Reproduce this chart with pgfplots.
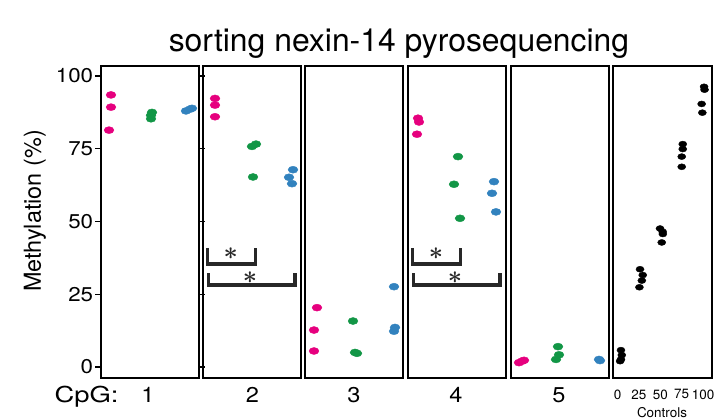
\documentclass[border=0pt]{standalone}
\usepackage{fontspec}
\setmainfont{TeX Gyre Heros}
\usepackage{pgfplots}
\pgfplotsset{compat=1.18}

\definecolor{cpink}{RGB}{230,0,126}
\definecolor{cgreen}{RGB}{18,150,70}
\definecolor{cblue}{RGB}{50,130,190}
\definecolor{brk}{RGB}{40,40,40}

\pgfplotsset{
  panel/.style={
    scale only axis, width=98bp, height=312bp,
    ymin=-3.78, ymax=103.44,
    xmin=0, xmax=98,
    axis line style={black, line width=2bp},
    xtick=\empty, ytick=\empty,
    clip=false,
    anchor=north west,
  },
  dots/.style={only marks, mark=*, mark size=3.5bp,
    mark options={xscale=1.4, draw=#1, fill=#1}},
}

% significance bracket: left x, right x, top y, bottom y
\newcommand{\bracket}[4]{%
  \draw[brk, line width=3.6bp, line cap=butt, line join=miter]
    (axis cs:#1,#3) -- (axis cs:#1,#4) -- (axis cs:#2,#4) -- (axis cs:#2,#3);}
\newcommand{\signif}[2]{%
  \node[text=brk, inner sep=0pt, font=\fontsize{28}{28}\selectfont\boldmath] at (axis cs:#1,#2) {$\ast$};}

\begin{document}
\begin{tikzpicture}
\useasboundingbox (0,0) rectangle (724bp,-420bp);

\node[anchor=base, font=\fontsize{32}{36}\selectfont] at (399bp,-51bp)
  {sorting nexin-14 pyrosequencing};
\node[rotate=90, font=\fontsize{23.5}{25}\selectfont] at (35bp,-211bp) {Methylation (\%)};
\node[anchor=base east, xscale=1.25, font=\fontsize{22}{22}\selectfont] at (123bp,-402bp) {CpG:};
\foreach \c/\t in {148/1, 252.5/2, 354/3, 456/4, 559/5}
  \node[anchor=base, xscale=1.1, font=\fontsize{21.5}{22}\selectfont] at (\c bp,-402bp) {\t};
\node[anchor=base, font=\fontsize{13.5}{14}\selectfont] at (662bp,-417bp) {Controls};

% CpG 1
\begin{axis}[panel, at={(101bp,-66bp)},
  ytick={0,25,50,75,100}, tick align=outside, major tick length=6bp,
  ytick style={black, line width=1.4bp},
  yticklabel style={font=\fontsize{20}{20}\selectfont, inner sep=1.5bp, xscale=1.12},
  /pgf/number format/assume math mode=true]
\addplot[dots=cpink] coordinates {(10,93.5) (10,89.3) (8,81.4)};
\addplot[dots=cgreen] coordinates {(51,87.5) (50,86.5) (50,85.3)};
\addplot[dots=cblue] coordinates {(85,88.0) (89,88.6) (91,88.9)};
\end{axis}

% CpG 2
\begin{axis}[panel, at={(203bp,-66bp)}]
\addplot[dots=cpink] coordinates {(12,92.3) (12,90.0) (12,86.0)};
\addplot[dots=cgreen] coordinates {(49,75.8) (53,76.6) (50,65.3)};
\addplot[dots=cblue] coordinates {(90,67.8) (86,65.2) (89,63.0)};
\bracket{4.5}{52.5}{40.9}{35.4}
\bracket{5.5}{92}{32.3}{28.2}
\signif{27.7}{38.9}
\signif{47}{30.7}
\end{axis}

% CpG 3
\begin{axis}[panel, at={(305bp,-66bp)}]
\addplot[dots=cpink] coordinates {(12,20.4) (9,12.7) (9,5.5)};
\addplot[dots=cgreen] coordinates {(48,15.8) (50,5.0) (52,4.7)};
\addplot[dots=cblue] coordinates {(89,27.6) (90,13.6) (89,12.3)};
\end{axis}

% CpG 4
\begin{axis}[panel, at={(408bp,-66bp)}]
\addplot[dots=cpink] coordinates {(10,85.5) (11,84.2) (9,80.0)};
\addplot[dots=cgreen] coordinates {(50,72.3) (46,62.8) (52,51.1)};
\addplot[dots=cblue] coordinates {(86,63.7) (84,59.7) (88,53.3)};
\bracket{4.5}{52.5}{40.9}{35.4}
\bracket{5.5}{92}{32.3}{28.2}
\signif{28}{38.9}
\signif{47}{30.7}
\end{axis}

% CpG 5
\begin{axis}[panel, at={(511bp,-66bp)}]
\addplot[dots=cpink] coordinates {(8,1.5) (11,2.0) (13,2.3)};
\addplot[dots=cgreen] coordinates {(47,7.0) (48,4.2) (45,2.6)};
\addplot[dots=cblue] coordinates {(88,2.6) (89,2.2)};
\end{axis}

% Controls
\begin{axis}[panel, at={(613bp,-66bp)}, width=99bp,
  xmin=-5.3, xmax=110.5,
  xtick={0,25,50,75,100}, major tick length=0pt,
  xticklabel style={font=\fontsize{13.5}{14}\selectfont, yshift=-8bp},
  /pgf/number format/assume math mode=true]
\addplot[only marks, mark=*, mark size=3bp, mark options={xscale=1.35, black}]
  coordinates {
    (4,5.8) (5,4.1) (4,2.6) (3,2.0)
    (26.3,33.6) (29.5,31.6) (28.4,29.7) (25.6,27.4)
    (49.7,47.6) (52.8,46.5) (53,45.7) (51.7,42.8)
    (76.3,76.6) (76.3,74.9) (75.1,72.3) (75.1,68.8)
    (101.2,96.3) (101.8,95.3) (98.4,90.4) (99.2,87.4)
  };
\end{axis}
\end{tikzpicture}
\end{document}
